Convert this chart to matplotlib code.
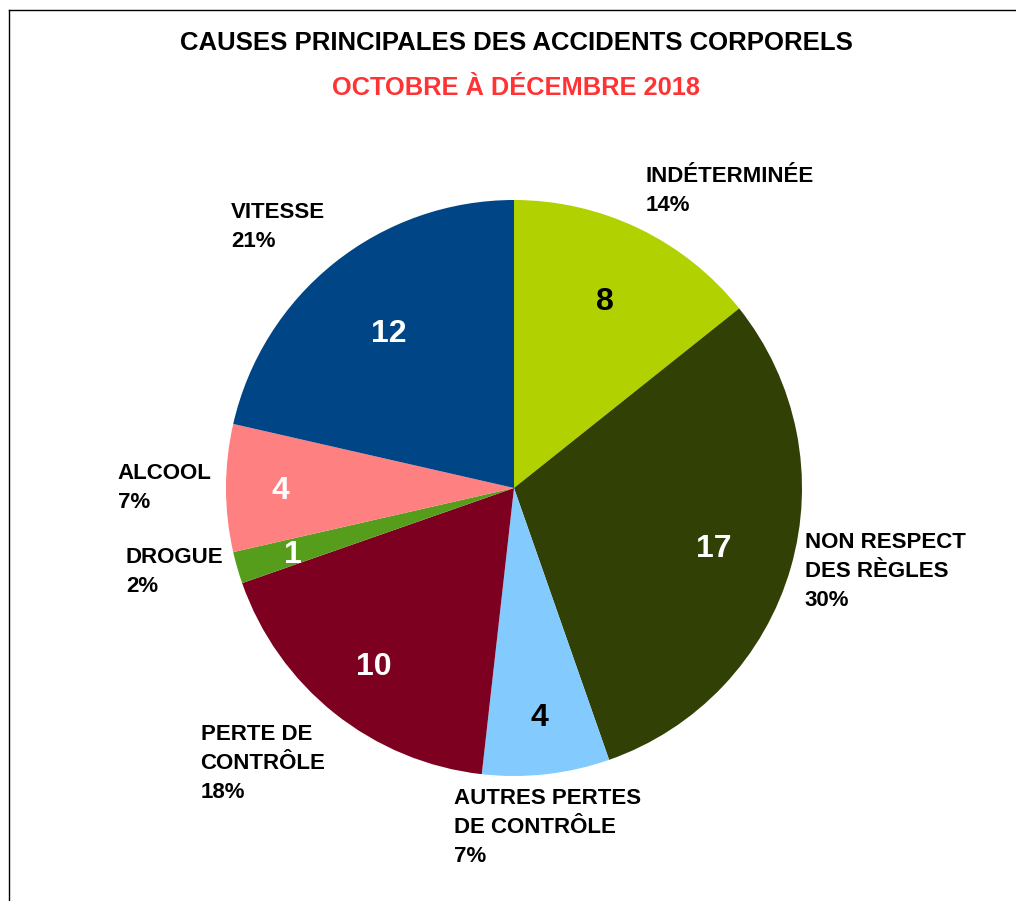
import numpy as np
import matplotlib
matplotlib.use("Agg")
import matplotlib.pyplot as plt
from matplotlib.lines import Line2D

plt.rcParams['font.family'] = ['Liberation Sans', 'DejaVu Sans']

# data
causes = ["INDÉTERMINÉE", "NON RESPECT\nDES RÈGLES", "AUTRES PERTES\nDE CONTRÔLE",
          "PERTE DE\nCONTRÔLE", "DROGUE", "ALCOOL", "VITESSE"]
counts = [8, 17, 4, 10, 1, 4, 12]
colors = ["#b2d100", "#314004", "#83caff", "#7e0021", "#579d1c", "#ff8080", "#004586"]
num_colors = ["black", "white", "black", "white", "white", "white", "white"]
# radial position of the number inside each slice (fraction of radius)
num_dist = [0.73, 0.72, 0.79, 0.78, 0.80, 0.81, 0.70]

total = sum(counts)
labels = [f"{c}\n{round(100 * v / total)}%" for c, v in zip(causes, counts)]

W, H = 1016, 901
fig = plt.figure(figsize=(W / 100, H / 100), dpi=100)
ax = fig.add_axes([0, 0, 1, 1])

cx, cy, R = 514, 488, 288
wedges, texts, autotexts = ax.pie(
    counts, labels=labels, colors=colors, startangle=90, counterclock=False,
    labeldistance=1.05, pctdistance=1.0,
    autopct=lambda p: f"{round(p * total / 100)}",
    wedgeprops=dict(linewidth=0),
    textprops=dict(fontsize=16, fontweight='bold'))

ax.set_xlim(-cx / R, (W - cx) / R)
ax.set_ylim(-(H - cy) / R, cy / R)
ax.set_aspect('equal', adjustable='datalim')
ax.axis('off')

for t in texts:
    x, y = t.get_position()
    a = np.arctan2(y, x)
    c, s = np.cos(a), np.sin(a)
    t.set_ha('center' if abs(c) < 0.2 else ('left' if c > 0 else 'right'))
    t.set_va('center' if abs(s) < 0.5 else ('bottom' if s > 0 else 'top'))
    t.set_multialignment('left')
    t.set_linespacing(1.5)

for t, col, d in zip(autotexts, num_colors, num_dist):
    x, y = t.get_position()
    t.set_position((x * d, y * d))
    t.set_color(col)
    t.set_fontsize(23)
    t.set_va('center_baseline')

fig.text(0.508, 1 - 43 / H, "CAUSES PRINCIPALES DES ACCIDENTS CORPORELS",
         ha='center', va='center', fontsize=18.5, fontweight='bold')
fig.text(0.508, 1 - 88 / H, "OCTOBRE À DÉCEMBRE 2018",
         ha='center', va='center', fontsize=18.3, fontweight='bold', color='#ff3333')

# frame (top and left edges)
fig.add_artist(Line2D([8.5 / W, 1], [1 - 9.5 / H, 1 - 9.5 / H], color='black', lw=1))
fig.add_artist(Line2D([8.5 / W, 8.5 / W], [0, 1 - 9.5 / H], color='black', lw=1))

fig.savefig("out.png", dpi=100)
